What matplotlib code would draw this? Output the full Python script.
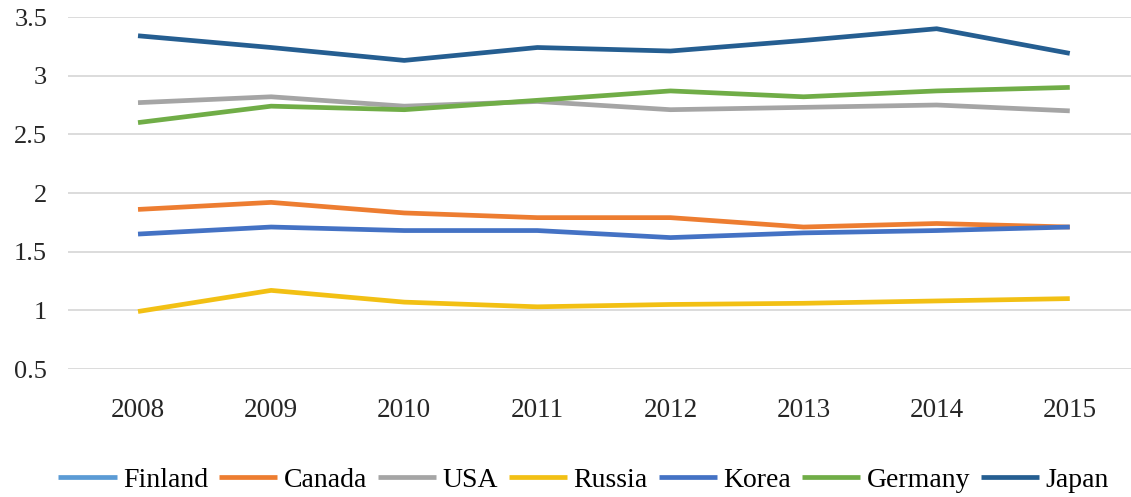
import numpy as np
import matplotlib
matplotlib.use('Agg')
from matplotlib import pyplot as plt

years = ['2008', '2009', '2010', '2011', '2012', '2013', '2014', '2015']

finland = []  # in legend only, no line visible
canada = [1.86, 1.92, 1.83, 1.79, 1.79, 1.71, 1.74, 1.71]
usa = [2.77, 2.82, 2.74, 2.78, 2.71, 2.73, 2.75, 2.70]
russia = [0.99, 1.17, 1.07, 1.03, 1.05, 1.06, 1.08, 1.10]
korea = [1.65, 1.71, 1.68, 1.68, 1.62, 1.66, 1.68, 1.71]
germany = [2.60, 2.74, 2.71, 2.79, 2.87, 2.82, 2.87, 2.90]
japan = [3.34, 3.24, 3.13, 3.24, 3.21, 3.30, 3.40, 3.19]

series = [
    ('Finland', finland, '#5B9BD5'),
    ('Canada', canada, '#ED7D31'),
    ('USA', usa, '#A5A5A5'),
    ('Russia', russia, '#F2C014'),
    ('Korea', korea, '#4472C4'),
    ('Germany', germany, '#70AD47'),
    ('Japan', japan, '#255E91'),
]

plt.rcParams['font.family'] = ['Liberation Serif', 'DejaVu Serif']

fig = plt.figure(figsize=(11.31, 4.97), dpi=100)
ax = fig.add_axes([68 / 1131, 1 - 369 / 497, 1 - 68 / 1131, (369 - 17) / 497])

x = np.arange(len(years))
for name, vals, col in series:
    ax.plot(x[:len(vals)], vals, color=col, linewidth=3.4, label=name,
            solid_capstyle='butt', zorder=3)

ax.set_xlim(-0.526, 7.46)
ax.set_ylim(0.5, 3.5)
ax.set_yticks([0.5, 1, 1.5, 2, 2.5, 3, 3.5])
ax.set_yticklabels(['0.5', '1', '1.5', '2', '2.5', '3', '3.5'])
ax.set_xticks(x)
ax.set_xticklabels(years)
ax.grid(axis='y', color='#D9D9D9', linewidth=1.3)
ax.set_axisbelow(True)
for s in ax.spines.values():
    s.set_visible(False)
ax.tick_params(axis='y', length=0, pad=15, labelsize=19, labelcolor='#262626')
ax.tick_params(axis='x', length=0, pad=21, labelsize=19.5, labelcolor='#262626')

fig.legend(loc='center', bbox_to_anchor=(0.516, 0.034), ncol=7, frameon=False,
           fontsize=20, handlelength=2.1, handletextpad=0.22, columnspacing=0.4,
           borderpad=0, borderaxespad=0)

fig.savefig('out.png', dpi=100, facecolor='white')
